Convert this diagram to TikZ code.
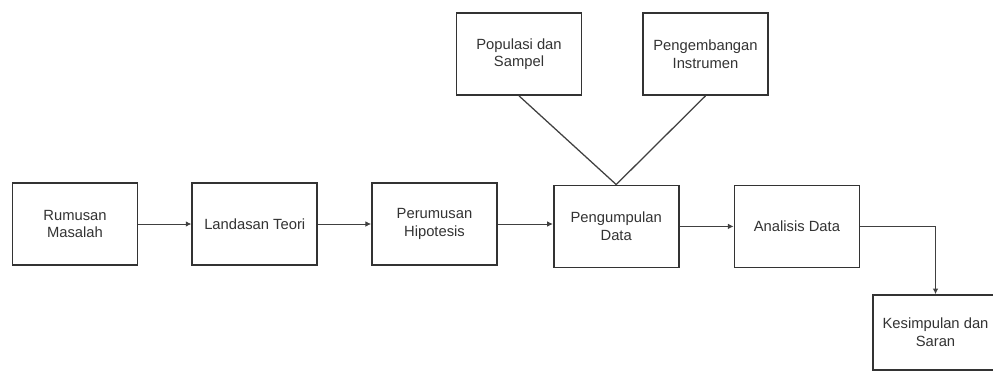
\documentclass[tikz,border=0pt]{standalone}
\usepackage{fontspec}
\setmainfont{Liberation Sans}
\usepackage{tikz}
\usetikzlibrary{arrows.meta, positioning}

\begin{document}
\begin{tikzpicture}[
    x=0.025cm, y=-0.025cm,
    node distance=1.325cm,
    box/.style={rectangle, draw=black!80, line width=1.2pt, fill=white,
                minimum width=3.125cm, minimum height=2.05cm,
                align=center, font=\fontsize{10.5}{12.5}\selectfont,
                text=black!80},
    link/.style={-{Latex[length=4pt, width=4pt]}, black!75, line width=0.7pt},
    feed/.style={black!75, line width=0.9pt}
  ]
    \useasboundingbox (0,0) rectangle (993,376);
    \clip (0,0) rectangle (993,376);

    % Main chain of steps
    \node[box] (rumusan) at (75,224) {Rumusan\\Masalah};
    \node[box, right=of rumusan] (landasan) {Landasan Teori};
    \node[box, right=of landasan] (hipotesis) {Perumusan\\Hipotesis};
    \node[box, right=1.375cm of hipotesis, yshift=-0.06cm] (pengumpulan) {Pengumpulan\\Data};
    \node[box, right=1.35cm of pengumpulan] (analisis) {Analisis Data};
    \node[box, minimum height=1.875cm] (kesimpulan) at (935.5,332.5) {Kesimpulan dan\\Saran};

    % Inputs to data collection
    \node[box] (populasi) at (519,54) {Populasi dan\\Sampel};
    \node[box] (instrumen) at (705.5,54) {Pengembangan\\Instrumen};

    % Arrows between steps
    \draw[link] (rumusan) -- (landasan);
    \draw[link] (landasan) -- (hipotesis);
    \draw[link] (hipotesis) -- (hipotesis -| pengumpulan.west);
    \draw[link] (pengumpulan) -- (analisis);
    \draw[link] (analisis.east) -| (kesimpulan.north);

    % Lines from the inputs
    \draw[feed] (populasi.south) -- (pengumpulan.north);
    \draw[feed] (instrumen.south) -- (pengumpulan.north);
  \end{tikzpicture}
\end{document}
